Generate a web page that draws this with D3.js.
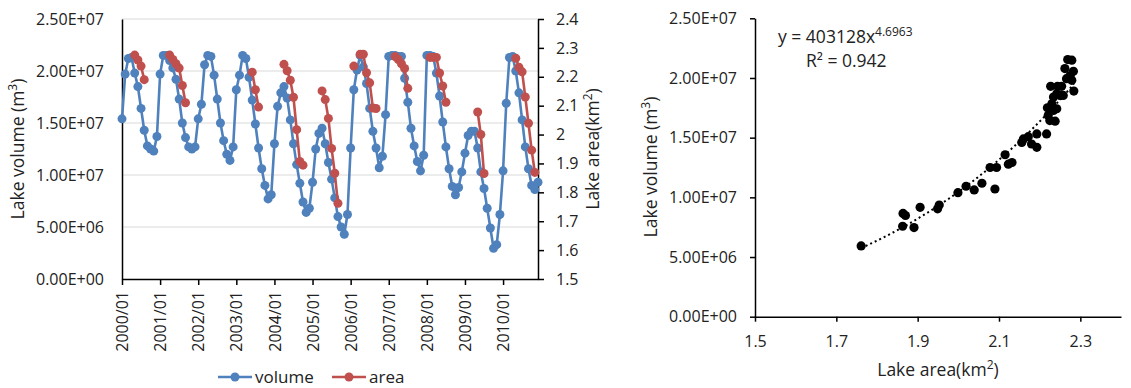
<!DOCTYPE html>
<html>
<head>
<meta charset="utf-8">
<script src="https://cdn.jsdelivr.net/npm/d3@7"></script>
<style>
    body { margin: 0; background: #fff; }
    svg text { font-family: "Open Sans", sans-serif; fill: #222; font-size: 16px; }
    .title { font-size: 17.5px; }
</style>
</head>
<body>
<div id="chart"></div>
<script>
// x-axis labels of the time series
const tickLabels = ["2000/01", "2001/01", "2002/01", "2003/01", "2004/01", "2005/01",
    "2006/01", "2007/01", "2008/01", "2009/01", "2010/01"];

// monthly lake volume (m3), 2000/01 .. 2010/12
const volume = [
    15.4e6, 19.7e6, 21.2e6, 21.3e6, 19.8e6, 18.5e6, 16.4e6, 14.3e6, 12.8e6, 12.5e6, 12.3e6, 13.7e6,
    19.7e6, 21.5e6, 21.5e6, 21.0e6, 20.3e6, 19.2e6, 17.3e6, 15.0e6, 13.6e6, 12.7e6, 12.5e6, 12.7e6,
    15.4e6, 16.8e6, 20.6e6, 21.5e6, 21.4e6, 19.6e6, 17.3e6, 15.0e6, 13.3e6, 12.0e6, 11.4e6, 12.7e6,
    18.2e6, 19.6e6, 21.5e6, 21.2e6, 19.4e6, 17.2e6, 14.9e6, 12.6e6, 10.6e6, 9.0e6, 7.7e6, 8.1e6,
    13.0e6, 16.6e6, 17.9e6, 18.5e6, 17.4e6, 15.3e6, 13.0e6, 11.0e6, 9.2e6, 7.4e6, 6.4e6, 6.8e6,
    9.3e6, 12.5e6, 14.0e6, 14.5e6, 13.0e6, 11.2e6, 9.6e6, 7.8e6, 6.0e6, 5.0e6, 4.3e6, 6.2e6,
    12.6e6, 18.2e6, 20.1e6, 21.5e6, 20.4e6, 18.8e6, 16.4e6, 14.2e6, 12.6e6, 10.7e6, 11.8e6, 15.8e6,
    21.4e6, 21.5e6, 21.5e6, 21.4e6, 21.4e6, 19.3e6, 17.0e6, 14.5e6, 12.8e6, 11.3e6, 10.4e6, 11.9e6,
    21.5e6, 21.5e6, 21.4e6, 19.8e6, 17.6e6, 15.1e6, 12.7e6, 10.6e6, 8.9e6, 8.1e6, 8.8e6, 10.3e6,
    12.1e6, 13.8e6, 14.2e6, 14.2e6, 12.6e6, 10.3e6, 8.7e6, 6.8e6, 4.9e6, 2.95e6, 3.3e6, 6.2e6,
    10.4e6, 16.9e6, 21.3e6, 21.4e6, 20.0e6, 17.9e6, 15.3e6, 12.7e6, 10.6e6, 9.0e6, 8.6e6, 9.3e6
];

// monthly lake area (km2), null where no image
const area = [
    null, null, null, null, 2.275, 2.258, 2.237, 2.19, null, null, null, null,
    null, null, null, 2.275, 2.26, 2.245, 2.23, 2.17, 2.11, null, null, null,
    null, null, null, null, null, null, null, null, null, null, null, null,
    null, null, null, null, null, 2.216, 2.155, 2.095, null, null, null, null,
    null, null, null, 2.243, 2.221, 2.188, 2.129, 2.017, 1.907, 1.894, null, null,
    null, null, null, 2.151, 2.121, 2.056, 1.952, 1.866, 1.762, null, null, null,
    null, 2.237, null, 2.278, 2.278, 2.214, 2.179, 2.092, 2.09, null, null, null,
    null, null, 2.27, 2.26, 2.245, 2.229, 2.16, null, null, null, null, null,
    null, 2.267, 2.267, 2.267, 2.213, 2.168, 2.112, null, null, null, null, null,
    null, null, null, null, 2.078, 2.0, 1.865, null, null, null, null, null,
    null, null, null, null, 2.264, 2.233, 2.217, 2.13, 2.039, 1.946, 1.869, null
];

// scatter: area (km2) vs volume (m3)
const scatterArea = [1.761, 1.863, 1.864, 1.870, 1.891, 1.906, 1.949, 1.953, 1.999, 2.019,
    2.039, 2.058, 2.090, 2.078, 2.094, 2.115, 2.123, 2.132, 2.156, 2.160,
    2.172, 2.180, 2.193, 2.193, 2.217, 2.219, 2.221, 2.225, 2.234, 2.238,
    2.242, 2.230, 2.234, 2.242, 2.250, 2.258, 2.227, 2.244, 2.254, 2.262,
    2.269, 2.279, 2.266, 2.279, 2.283, 2.284, 2.275];
const scatterVolume = [5.93e6, 7.58e6, 8.65e6, 8.48e6, 7.47e6, 9.16e6, 9.04e6, 9.35e6, 10.39e6, 10.93e6,
    10.62e6, 11.18e6, 10.70e6, 12.5e6, 12.5e6, 13.57e6, 12.78e6, 12.92e6, 14.6e6, 14.89e6,
    15.08e6, 14.47e6, 14.19e6, 15.31e6, 15.31e6, 17.5e6, 16.85e6, 16.43e6, 17.28e6, 16.38e6,
    17.42e6, 17.84e6, 18.4e6, 18.68e6, 18.54e6, 18.54e6, 19.3e6, 19.3e6, 19.3e6, 20.79e6,
    21.54e6, 21.49e6, 19.94e6, 19.8e6, 20.56e6, 18.9e6, 20.2e6];

// power trend line y = a * x^b
const fitA = 403128;
const fitB = 4.6963;

const blue = '#4f81bd';
const red = '#c0504d';

const months = d3.range(2000, 2011).flatMap(y => d3.range(1, 13).map(m => `${y}/${String(m).padStart(2, '0')}`));

function sci(v) {
    if (v === 0) return '0.00E+00';
    const e = Math.floor(Math.log10(v) + 1e-9);
    return (v / Math.pow(10, e)).toFixed(2) + 'E+' + String(e).padStart(2, '0');
}

// text with a raised small part, e.g. m3 -> m³
function supText(g, attrs, before, sup, after) {
    const t = g.append('text').attr('class', 'title');
    Object.keys(attrs).forEach(k => t.attr(k, attrs[k]));
    t.append('tspan').text(before);
    t.append('tspan').text(sup).attr('dy', -7).style('font-size', '12px');
    if (after) t.append('tspan').text(after).attr('dy', 7);
    return t;
}

const svg = d3.select('#chart').append('svg')
    .attr('width', 1131)
    .attr('height', 388);

// ---------- left chart: time series ----------
const x = d3.scalePoint().domain(months).range([122, 538]);
const yL = d3.scaleLinear().domain([0, 2.5e7]).range([279, 19]);
const yR = d3.scaleLinear().domain([1.5, 2.4]).range([279, 19]);
const volTicks = d3.range(0, 6).map(d => d * 5e6);
const areaTicks = d3.range(15, 25).map(d => d / 10);

const left = svg.append('g');

left.selectAll('.grid')
    .data(volTicks.slice(1))
    .enter().append('line')
    .attr('class', 'grid')
    .attr('x1', 122).attr('x2', 538)
    .attr('y1', d => yL(d)).attr('y2', d => yL(d))
    .attr('stroke', '#d9d9d9')
    .attr('stroke-width', 1);

const axL = left.append('g')
    .attr('transform', 'translate(122,0)')
    .call(d3.axisLeft(yL).tickValues(volTicks).tickSize(0).tickPadding(18).tickFormat(sci));

const axR = left.append('g')
    .attr('transform', 'translate(538,0)')
    .call(d3.axisRight(yR).tickValues(areaTicks).tickSize(6).tickSizeOuter(0).tickPadding(12)
        .tickFormat(d => String(+d.toFixed(1))));

const axB = left.append('g')
    .attr('transform', 'translate(0,279)')
    .call(d3.axisBottom(x).tickValues(tickLabels).tickSize(6).tickSizeOuter(0));
axB.selectAll('text')
    .attr('transform', 'rotate(-90)')
    .attr('text-anchor', 'end')
    .attr('x', -12)
    .attr('y', 0)
    .attr('dy', '0.35em');

[axL, axR, axB].forEach(a => {
    a.selectAll('path, line').attr('stroke', '#000').attr('stroke-width', 1.5);
    a.selectAll('text').style('font-size', '16px').attr('fill', '#222');
});

const volLine = d3.line().x((d, i) => x(months[i])).y(d => yL(d));
left.append('path')
    .datum(volume)
    .attr('d', volLine)
    .attr('fill', 'none')
    .attr('stroke', blue)
    .attr('stroke-width', 2.6);
left.selectAll('.vdot')
    .data(volume)
    .enter().append('circle')
    .attr('class', 'vdot')
    .attr('cx', (d, i) => x(months[i]))
    .attr('cy', d => yL(d))
    .attr('r', 4.5)
    .attr('fill', blue);

const areaLine = d3.line().defined(d => d !== null).x((d, i) => x(months[i])).y(d => yR(d));
left.append('path')
    .datum(area)
    .attr('d', areaLine)
    .attr('fill', 'none')
    .attr('stroke', red)
    .attr('stroke-width', 2.6);
left.selectAll('.adot')
    .data(area.map((d, i) => ({ v: d, m: months[i] })).filter(d => d.v !== null))
    .enter().append('circle')
    .attr('class', 'adot')
    .attr('cx', d => x(d.m))
    .attr('cy', d => yR(d.v))
    .attr('r', 4.5)
    .attr('fill', red);

// axis titles
supText(left, { transform: 'translate(24,149) rotate(-90)', 'text-anchor': 'middle' }, 'Lake volume (m', '3', ')');
supText(left, { transform: 'translate(599,149) rotate(-90)', 'text-anchor': 'middle' }, 'Lake area(km', '2', ')');

// legend
const legend = [{ label: 'volume', color: blue, x: 218 }, { label: 'area', color: red, x: 332 }];
const lg = left.selectAll('.legend')
    .data(legend)
    .enter().append('g')
    .attr('class', 'legend')
    .attr('transform', d => `translate(${d.x},377)`);
lg.append('line')
    .attr('x1', 0).attr('x2', 34)
    .attr('stroke', d => d.color)
    .attr('stroke-width', 2.6);
lg.append('circle')
    .attr('cx', 17).attr('r', 4.5)
    .attr('fill', d => d.color);
lg.append('text')
    .attr('x', 37)
    .attr('dy', '0.35em')
    .style('font-size', '17px')
    .text(d => d.label);

// ---------- right chart: scatter ----------
const xs = d3.scaleLinear().domain([1.5, 2.4]).range([755, 1121]);
const ys = d3.scaleLinear().domain([0, 2.5e7]).range([316.7, 18.3]);

const right = svg.append('g');

const axSY = right.append('g')
    .attr('transform', 'translate(755,0)')
    .call(d3.axisLeft(ys).tickValues(volTicks).tickSize(5).tickSizeOuter(0).tickPadding(13).tickFormat(sci));
const axSX = right.append('g')
    .attr('transform', 'translate(0,316.7)')
    .call(d3.axisBottom(xs).tickValues([1.5, 1.7, 1.9, 2.1, 2.3]).tickSize(5).tickSizeOuter(0).tickPadding(14)
        .tickFormat(d => d.toFixed(1)));
[axSY, axSX].forEach(a => {
    a.selectAll('path, line').attr('stroke', '#000').attr('stroke-width', 1.5);
    a.selectAll('text').style('font-size', '16px').attr('fill', '#222');
});

// trend line
const fitX = d3.range(0, 41).map(i => d3.min(scatterArea) + (d3.max(scatterArea) - d3.min(scatterArea)) * i / 40);
right.append('path')
    .datum(fitX)
    .attr('d', d3.line().x(d => xs(d)).y(d => ys(fitA * Math.pow(d, fitB))))
    .attr('fill', 'none')
    .attr('stroke', '#000')
    .attr('stroke-width', 2)
    .attr('stroke-dasharray', '2,3');

right.selectAll('.sdot')
    .data(scatterArea)
    .enter().append('circle')
    .attr('class', 'sdot')
    .attr('cx', d => xs(d))
    .attr('cy', (d, i) => ys(scatterVolume[i]))
    .attr('r', 4.6)
    .attr('fill', '#000');

supText(right, { x: 778, y: 43 }, 'y = 403128x', '4.6963', null);
right.append('text').attr('class', 'title').attr('x', 806).attr('y', 67).text('R² = 0.942');

supText(right, { transform: 'translate(657,167) rotate(-90)', 'text-anchor': 'middle' }, 'Lake volume (m', '3', ')');
supText(right, { x: 938, y: 376, 'text-anchor': 'middle' }, 'Lake area(km', '2', ')');
</script>
</body>
</html>
